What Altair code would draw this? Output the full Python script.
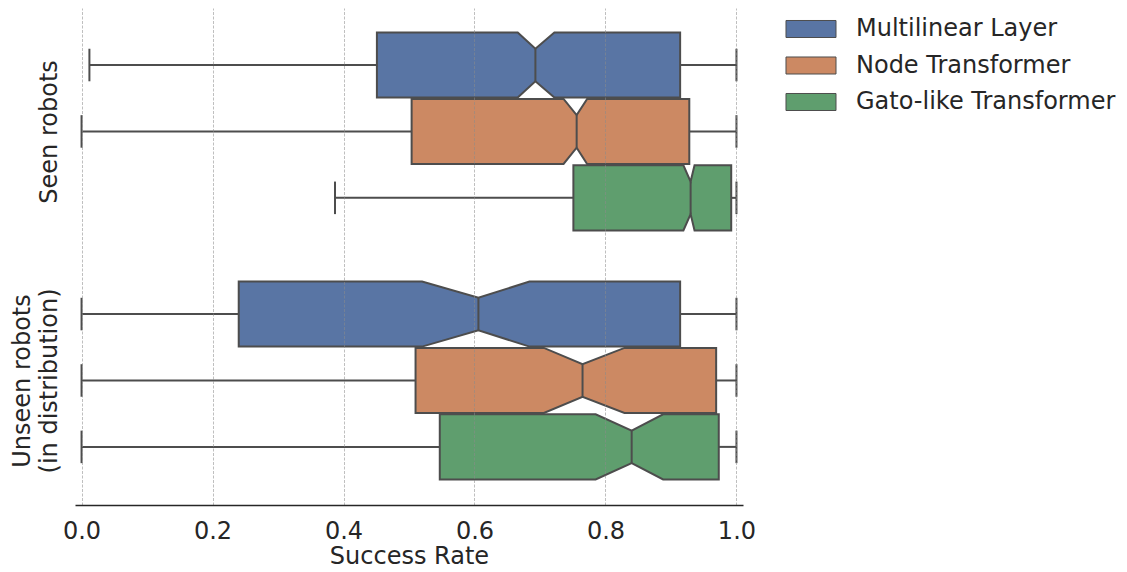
import altair as alt
import pandas as pd

# ---- data ----
groups = ["Seen robots", "Unseen robots"]
models = ["Multilinear Layer", "Node Transformer", "Gato-like Transformer"]
colors = ["#5975a4", "#cc8963", "#5f9e6e"]

box_group = [0, 0, 0, 1, 1, 1]
box_model = [0, 1, 2, 0, 1, 2]
whisker_lo = [0.012, 0.0, 0.387, 0.0, 0.0, 0.0]
q1 = [0.451, 0.504, 0.751, 0.240, 0.510, 0.547]
notch_lo = [0.666, 0.736, 0.919, 0.520, 0.706, 0.785]
median = [0.693, 0.756, 0.930, 0.606, 0.765, 0.840]
notch_hi = [0.722, 0.772, 0.936, 0.684, 0.829, 0.888]
q3 = [0.914, 0.928, 0.992, 0.914, 0.969, 0.973]
whisker_hi = [1.0, 1.0, 1.0, 1.0, 1.0, 1.0]

x_ticks = [0.0, 0.2, 0.4, 0.6, 0.8, 1.0]

# ---- geometry helpers (seaborn-like dodge) ----
slot = 0.8 / 3
half = slot * 0.98 / 2

poly_rows, box_rows = [], []
for i in range(len(q1)):
    yc = box_group[i] + (box_model[i] - 1) * slot
    name = models[box_model[i]]
    pts = [(q1[i], half), (notch_lo[i], half), (median[i], half / 2),
           (notch_hi[i], half), (q3[i], half)]
    for xv, h in pts:
        poly_rows.append({"box": i, "model": name, "x": xv,
                          "ytop": yc - h, "ybot": yc + h})
    box_rows.append({"box": i, "model": name, "yc": yc,
                     "ys": yc - half / 2, "ye": yc + half / 2,
                     "wlo": whisker_lo[i], "q1": q1[i], "med": median[i],
                     "q3": q3[i], "whi": whisker_hi[i]})

poly = pd.DataFrame(poly_rows)
boxes = pd.DataFrame(box_rows)

LINE = "#4d4d4d"
TEXT = "#262626"
FS = 24

xscale = alt.Scale(domain=[-0.01, 1.01], nice=False, zero=False)
yscale = alt.Scale(domain=[-0.4956, 1.5], nice=False, zero=False, reverse=True)

label_expr = ("datum.value == 0 ? ['', 'Seen robots'] : "
              "['Unseen robots', '(in distribution)']")

x_axis = alt.Axis(values=x_ticks, format=".1f", title="Success Rate",
                  grid=True, gridColor="#8a8a8a", gridOpacity=0.55,
                  gridDash=[3, 1.5], gridWidth=1,
                  ticks=False, tickSize=0, labelPadding=14,
                  labelFontSize=FS, labelColor=TEXT,
                  titleFontSize=FS, titleFontWeight="normal", titleColor=TEXT,
                  titlePadding=1, domainColor=TEXT, domainWidth=1.6, zindex=1)
y_axis = alt.Axis(values=[0, 1], labelExpr=label_expr, labelAngle=270,
                  labelBaseline="bottom", labelAlign="center",
                  labelPadding=41, labelLineHeight=27, labelLimit=400,
                  ticks=False, tickSize=0, domain=False, grid=False,
                  labelFontSize=FS, labelColor=TEXT, title=None)

legend = alt.Legend(title=None, orient="none", legendX=718, legendY=3,
                    symbolType="M-1.4286,-0.486H1.4286V0.486H-1.4286Z",
                    symbolSize=1225, symbolStrokeColor=LINE,
                    symbolStrokeWidth=1, symbolOpacity=1,
                    labelFontSize=FS, labelColor=TEXT, labelOffset=27,
                    labelLimit=400, rowPadding=6.5, padding=0)

area = alt.Chart(poly).mark_area(stroke=LINE, strokeWidth=2, opacity=1,
                                 orient="vertical").encode(
    x=alt.X("x:Q", scale=xscale, axis=x_axis),
    y=alt.Y("ytop:Q", scale=yscale, axis=y_axis, stack=None),
    y2="ybot:Q",
    color=alt.Color("model:N", scale=alt.Scale(domain=models, range=colors),
                    legend=legend),
    detail="box:N",
)

base = alt.Chart(boxes)
med_rule = base.mark_rule(color=LINE, strokeWidth=2).encode(
    x=alt.X("med:Q", scale=xscale), y=alt.Y("ys:Q", scale=yscale), y2="ye:Q")
w_lo = base.mark_rule(color=LINE, strokeWidth=2).encode(
    x=alt.X("wlo:Q", scale=xscale), x2="q1:Q", y=alt.Y("yc:Q", scale=yscale))
w_hi = base.mark_rule(color=LINE, strokeWidth=2).encode(
    x=alt.X("q3:Q", scale=xscale), x2="whi:Q", y=alt.Y("yc:Q", scale=yscale))
cap_lo = base.mark_rule(color=LINE, strokeWidth=2).encode(
    x=alt.X("wlo:Q", scale=xscale), y=alt.Y("ys:Q", scale=yscale), y2="ye:Q")
cap_hi = base.mark_rule(color=LINE, strokeWidth=2).encode(
    x=alt.X("whi:Q", scale=xscale), y=alt.Y("ys:Q", scale=yscale), y2="ye:Q")

chart = alt.layer(w_lo, w_hi, cap_lo, cap_hi, area, med_rule).properties(
    width=668, height=497,
    autosize=alt.AutoSizeParams(type="none"),
    padding={"left": 67, "top": 0, "right": 376, "bottom": 59},
).configure(font="DejaVu Sans").configure_view(stroke=None)

chart.save("out.html", embed_options={"renderer": "svg", "actions": False})
